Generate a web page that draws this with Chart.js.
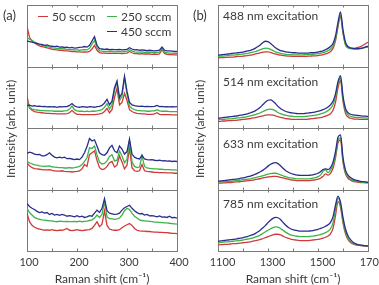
<!DOCTYPE html>
<html>
<head>
<meta charset="utf-8">
<script src="https://cdn.jsdelivr.net/npm/chart.js@4.4.1/dist/chart.umd.min.js"></script>
<style>
  body { margin: 0; width: 379px; height: 285px; overflow: hidden; background: #fff; position: relative;
         font-family: Lato, "Open Sans", sans-serif; color: #3a3a3a; }
  canvas { position: absolute; }
  .txt { position: absolute; white-space: nowrap; line-height: 14px; transform: translateY(-50%); font-size: 12px; }
  .key { position: absolute; width: 10px; height: 0; border-top: 1.5px solid; }
  .ytitle { position: absolute; width: 140px; text-align: center; font-size: 12px; line-height: 14px;
            transform: rotate(-90deg); white-space: nowrap; }
</style>
</head>
<body>
<script>
// x values (Raman shift, cm-1)
const shiftA = [100,105,110,115,120,125,130,135,140,145,150,155,160,165,170,175,180,185,190,195,
  200,205,210,215,220,225,230,235,240,245,250,255,260,265,270,275,280,285,290,295,
  300,305,310,315,320,325,330,335,340,345,350,355,360,365,370,375,380,385,390,395,400];
const shiftB = [1100,1110,1120,1130,1140,1150,1160,1170,1180,1190,1200,1210,1220,1230,1240,1250,1260,1270,1280,1290,
  1300,1310,1320,1330,1340,1350,1360,1370,1380,1390,1400,1410,1420,1430,1440,1450,1460,1470,1480,1490,
  1500,1510,1520,1530,1540,1550,1560,1570,1580,1590,1600,1610,1620,1630,1640,1650,1660,1670,1680,1690,1700];

const ticksA = [100, 200, 300, 400];
const ticksB = [1100, 1300, 1500, 1700];
const flows = ['50 sccm', '250 sccm', '450 sccm'];
const excitations = ['488 nm excitation', '514 nm excitation', '633 nm excitation', '785 nm excitation'];

// panel (a): intensity, % of each sub-panel height
const a1Red = [65,48,42,39,36,34,33,32,31,30,28.5,28,27.5,27,27,26,26,25.5,25,25,
  24.5,24.5,24,24.5,24,25,29,35,27,23,22.5,22.5,22,22.5,22,22,22,22,21.5,22,
  22.5,25,23,21.5,21.5,21,21.5,21,21,21,20.5,21,20.5,21,28,22,20.5,20,20,19.5,19.5];
const a1Green = [47,45,43,40,38,36,35,34,33,32.5,31,30.5,30,29.5,29.5,29,28.5,28,28,27.5,
  27.5,27,27.5,28,27.5,30,37,43,31,26,25.5,25,25,25.5,25,24.5,25,25,24.5,25,
  25.5,28,26,24.5,24,24,24.5,23.5,24,23.5,23.5,23,23.5,24,30,24,23,22.5,22.5,22,22];
const a1Blue = [42,41,40,39,38,37,36.5,35,35.5,34,33.5,33,33.5,32,32.5,31.5,32,31,31.5,30.5,
  31,31.5,32,33,32,35,42,49,35,29.5,29,28.5,29,28,28.5,28,28,28.5,27.5,28,
  28.5,31,29,27.5,28,27,27.5,27,26.5,27,26.5,26,26.5,27,32,27,26,26,25.5,25,25];

const a2Red = [52,33,29,27,26,25.5,25,24.5,24,24,23.5,23.5,23,23,23,23,23.5,25,29,25,
  22.5,22.5,22,22,22,22,22,22,22.5,23,24,27,32,25,30,50,65,38,42,57,
  45,30,27,25,24,23.5,23,23,22.5,22.5,22.5,23,25,22.5,22,22,22,22,21.5,21.5,21.5];
const a2Green = [44,34,31,30,29.5,29,28.5,28.5,28,28,28,27.5,27.5,27.5,27.5,28,28.5,31,36,30,
  28,27.5,27.5,27,27.5,27,27.5,27.5,28,29,30,34,40,31,38,62,75,45,52,82,
  55,36,32,30,29,28.5,28,28,27.5,27.5,28,28,30,28,27.5,27.5,27.5,27,27,27,27];
const a2Blue = [37,37.5,36,36.5,35.5,36,35,35.5,34.5,35,34.5,35,34,35,34.5,35,35,37,40,36,
  34.5,34,35,34.5,34,35,34.5,34,35,35.5,37,41,47,38,44,66,77,50,57,85,
  60,42,38,36.5,36,35.5,36,35,35.5,35,35,35.5,37,35,35.5,34.5,35,34.5,35,34.5,35];

const a3Red = [44,39,36,34.5,34,33.5,33,32.5,32.5,33,31.5,31,30.5,30.5,31,30,29.5,29.5,29,29.5,
  30,31,34,41,38,57,60,63,48,36,33,34,38,44,46,37,40,55,45,34,
  40,68,36,31,30,31,41,31,30,29.5,29,28.5,28.5,28,28,28,27.5,27.5,27.5,27,27];
const a3Green = [46,44,42,40.5,40,39,38.5,38,38.5,39,37.5,37,36.5,36,36,35.5,35.5,36,35.5,36,
  37,38,41,46,52,68,67,71,57,45,42,43,47,54,57,47,48,63,55,44,
  50,79,45,38,36,37,55,38,35.5,35,34.5,34,34,33.5,33.5,33,33,33,32.5,32.5,32];
const a3Blue = [59,61,60,58,57,57.5,55,55,57,60,56,53,52,53,52,53,50.5,51,50,49,
  50,49,53,60,70,83,79,81,71,60,57,56,60,68,72,63,60,71,66,58,
  62,82,58,53,51,50,56,50,49,48.5,49,48,47.5,48,47,47.5,46.5,47,46,46.5,46];

const a4Red = [62,48,42,39,37,36,35,34,34.5,34,35,34,33.5,34,34,35,37,34,33.5,34,
  35,34,33.5,34,34.5,35,37,42,48,40,44,66,42,36,34.5,34,34,35,38,41,
  43,45,42,37,34,33,32.5,32.5,32,32,31.5,31,31,30.5,30.5,30,30,29.5,29,29,28.5];
const a4Green = [70,63,59,55,53,52,51,50.5,50,49.5,49.5,48.5,48,49,48.5,48,48.5,48,48,48.5,
  48,49,48,48.5,49,50,51,54,59,55,60,81,56,53,52.5,52,52.5,54,59,66,
  70,68,62,57,54,51,50,49.5,49,48.5,48,47.5,47.5,47,46.5,46,46,45.5,45,44.5,44];
const a4Blue = [78,73,70,68,65,63,64,62,63,60,61.5,59,60,58.5,60,59,57,58,57,56,
  58,56,57,55,56,58,57,62,67,63,70,86,66,62,61,60,60.5,62,67,71,
  73,75,70,66,63,61,61.5,59,60,57.5,58,57,56,57.5,55.5,56,55,57,54.5,55,54];

// panel (b)
const b1Red = [14.5,15,15,15.5,15.5,16,16,16.5,17,17,17.5,18,18.5,19,20,21,22,23,24,24.5,
  24.5,23.5,22,21,20,19,18.5,18,17.5,17.5,17,17,17,17,17,17,17.5,17.5,18,18,
  18.5,19,20,21,22.5,25,30,42,65,82,55,36,31,30,30,30.5,31.5,33,35,37.5,40];
const b1Green = [17,17.5,17.5,18,18.5,19,19,19.5,20,20.5,21,21.5,22,23,24,25,26.5,28,29.5,30.5,
  30,28.5,26.5,24.5,23,22,21,20.5,20,20,19.5,19.5,19.5,19.5,19.5,20,20,20,20.5,21,
  21.5,22,23,24.5,26.5,29,34,45,68,84,55,36,31,29.5,29,29,29,29.5,30.5,31.5,32];
const b1Blue = [19,19.5,20,20.5,21,21.5,22,22.5,23,23.5,24,25,26,27,28.5,30.5,33,36,39.5,41.5,
  41,38,34.5,31,28.5,26.5,25.5,24.5,24,23.5,23,23,22.5,22.5,22.5,22.5,22.5,23,23,23.5,
  24,25,26,28,30,33,38,50,72,89,60,40,33,31,30,29.5,29.5,30,31,32.5,33.5];

const b2Red = [11,11,11.5,11.5,12,12,12.5,12.5,13,13.5,14,14.5,15,15.5,16.5,17,18,19,20,21,
  21.5,21.5,21,20,18.5,17.5,16.5,15.5,15,14.5,14,14,14,14,14,14,14.5,15,15.5,16,
  16.5,17,18,19.5,21,23.5,29,42,66,78,44,24,18,16,15,14.5,14.5,14,14,14,14];
const b2Green = [13.5,14,14,14.5,15,15,15.5,16,16.5,17,17.5,18,19,20,21,22,23.5,25,27,29,
  30.5,31,30,28,25.5,23.5,22,21,20,19.5,19,18.5,18.5,18.5,18.5,19,19.5,20,20.5,21,
  22,23,24.5,26,28.5,32,38,51,72,82,48,28,21.5,19,18,17.5,17,17,16.5,16.5,16];
const b2Blue = [16,16.5,17,17.5,18,18.5,19,19.5,20,21,21.5,22.5,23.5,25,26.5,28.5,31,34.5,38.5,42.5,
  45.5,46,44,40,35.5,32,29.5,27.5,26,25,24.5,24,23.5,23.5,23.5,24,24.5,25,25.5,26.5,
  27.5,28.5,30,32,34.5,38,44,56,76,86,52,32,25,22.5,21.5,21,20.5,20,19.5,19.5,19];

const b3Red = [11,11,11.5,11.5,12,12,12.5,13,13,13.5,14,14.5,15,15.5,16,17,17.5,18.5,19.5,20.5,
  21,21.5,22,22,21.5,20.5,19.5,18.5,17.5,16.5,16,15.5,15,15,15,15,15,15.5,16,16.5,
  17.5,19,22,26,24,27,35,52,76,81,45,26,19,16,14,13,12.5,12,12,11.5,11.5];
const b3Green = [13,13,13.5,13.5,14,14,14.5,15,15.5,16,16.5,17,17.5,18,19,20,21,22,23,24.5,
  25.5,26.5,27,27,26,24.5,23,21.5,20.5,19.5,19,18.5,18,18,18,18,18,18.5,19,20,
  21.5,24,30,33,28,32,40,56,80,84,48,28,21,17.5,15.5,14.5,13.5,13,12.5,12.5,12];
const b3Blue = [14,14.5,15,15.5,16,16.5,17,17.5,18,19,19.5,20.5,21.5,22.5,24,25.5,27.5,29.5,32,35,
  38.5,41.5,43.5,44,42.5,39,35,31.5,29,27,25.5,24.5,24,23.5,23.5,23.5,23.5,24,24.5,25.5,
  27,29.5,33,34,33,36,45,62,85,89,52,32,24,20,17.5,16,15,14,13.5,13,12.5];

const b4Red = [10,10.5,10.5,11,11,11.5,12,12,12.5,13,13.5,14,14.5,15,16,17,18,19,20.5,22,
  23.5,25,26.5,27.5,27.5,26.5,24.5,22.5,21,19.5,18.5,18,17.5,17,17,17,17,17.5,18,18.5,
  19,20,21,22.5,24.5,28,37,58,81,72,46,28,19,14,11.5,10,9.5,9,8.5,8.5,8];
const b4Green = [13.5,14,14.5,15,15,15.5,16,16.5,17,17.5,18,19,19.5,20.5,21.5,23,24.5,26.5,29,31.5,
  34,36.5,38.5,39.5,39,37,34,31,28.5,26.5,25.5,24.5,24,23.5,23.5,23.5,23.5,24,24.5,25,
  26,27,28.5,30,32.5,36.5,46,68,87,76,50,31,21,15.5,12.5,11,10,9.5,9,8.5,8];
const b4Blue = [16,16.5,17,17.5,18,18.5,19,19.5,20.5,21,22,23,24,25.5,27,29,31.5,34.5,38,42,
  46.5,50.5,53.5,55,54.5,51.5,47,42.5,39,36.5,35,34,33,32.5,32.5,32.5,32.5,33,33.5,34.5,
  35.5,37,38.5,40.5,43,47,56,75,90,80,55,36,25,18.5,14.5,12,10.5,9.5,9,8.5,8];

const RED = '#d03a3a', GREEN = '#3cb44a', BLUE = '#2a2d8c', FRAME = '#7a7a7a', INK = '#3a3a3a';
const FONT = 'Lato, "Open Sans", sans-serif';

// short inward tick marks on top and bottom edge of every sub-panel
const innerTicks = {
  id: 'innerTicks',
  afterDatasetsDraw(chart) {
    const { ctx, chartArea: a, scales: { x } } = chart;
    ctx.save();
    ctx.strokeStyle = FRAME;
    ctx.lineWidth = 1;
    ctx.beginPath();
    for (const t of x.ticks) {
      if (t.value <= x.min || t.value >= x.max) continue;
      const px = Math.round(x.getPixelForValue(t.value)) + 0.5;
      ctx.moveTo(px, a.top); ctx.lineTo(px, a.top + 2.5);
      ctx.moveTo(px, a.bottom); ctx.lineTo(px, a.bottom - 2.5);
    }
    ctx.stroke();
    ctx.restore();
  }
};

function subplot(box, xs, reds, greens, blues, ax, bottom) {
  const padX = 30, padT = 4, axisH = bottom ? 40 : 0, padB = bottom ? 0 : 4;
  const cv = document.createElement('canvas');
  cv.width = box.w + 2 * padX;
  cv.height = padT + box.h + axisH + padB;
  cv.style.left = (box.left - padX) + 'px';
  cv.style.top = (box.top - padT) + 'px';
  document.body.appendChild(cv);

  const pts = ys => xs.map((x, i) => ({ x, y: ys[i] }));
  const line = (label, ys, color, order) => ({
    label, data: pts(ys), borderColor: color, borderWidth: 1.3, pointRadius: 0, order,
    tension: ax.smooth ? 0.4 : 0, cubicInterpolationMode: ax.smooth ? 'monotone' : 'default'
  });
  const edge = pos => ({
    type: 'linear', position: pos, display: true,
    grid: { display: false, drawTicks: false }, ticks: { display: false },
    border: { color: FRAME, width: 1 }
  });

  new Chart(cv, {
    type: 'line',
    data: {
      datasets: [
        line(flows[0], reds, RED, 3),
        line(flows[1], greens, GREEN, 2),
        line(flows[2], blues, BLUE, 1)
      ]
    },
    options: {
      responsive: false,
      animation: false,
      events: [],
      layout: { padding: { left: padX, right: padX, top: padT, bottom: padB } },
      plugins: { legend: { display: false }, tooltip: { enabled: false } },
      scales: {
        x: {
          type: 'linear', position: 'bottom', min: ax.min, max: ax.max,
          grid: { display: false, drawTicks: false },
          border: { color: FRAME, width: 1 },
          afterFit: s => { if (bottom) s.height = axisH; },
          ticks: {
            display: bottom, stepSize: ax.step, autoSkip: false, maxRotation: 0,
            padding: 5, labelOffset: ax.labelOffset, color: INK,
            font: { family: FONT, size: 11 },
            callback: v => (ax.labels.includes(v) ? String(v) : '')
          },
          title: {
            display: bottom, text: 'Raman shift (cm⁻¹)', color: INK,
            font: { family: FONT, size: 12 }, padding: { top: 0, bottom: 5 }
          }
        },
        xTop: Object.assign(edge('top'), { min: ax.min, max: ax.max }),
        y: Object.assign(edge('left'), { min: 0, max: 100 }),
        yRight: Object.assign(edge('right'), { min: 0, max: 100 })
      }
    },
    plugins: [innerTicks]
  });
}

function text(str, left, top, size, cls) {
  const d = document.createElement('div');
  d.className = cls || 'txt';
  d.textContent = str;
  d.style.left = left + 'px';
  d.style.top = top + 'px';
  if (size) d.style.fontSize = size + 'px';
  document.body.appendChild(d);
  return d;
}

const rows = [{ top: 5, h: 62 }, { top: 67, h: 61 }, { top: 128, h: 62 }, { top: 190, h: 61 }];
const axA = { min: 100, max: 400, step: 50, labels: ticksA, labelOffset: 2, smooth: false };
const axB = { min: 1100, max: 1700, step: 100, labels: ticksB, labelOffset: 4.5, smooth: true };

const panelA = [[a1Red, a1Green, a1Blue], [a2Red, a2Green, a2Blue], [a3Red, a3Green, a3Blue], [a4Red, a4Green, a4Blue]];
const panelB = [[b1Red, b1Green, b1Blue], [b2Red, b2Green, b2Blue], [b3Red, b3Green, b3Blue], [b4Red, b4Green, b4Blue]];

rows.forEach((r, i) => {
  const last = i === rows.length - 1;
  subplot({ left: 27, top: r.top, w: 150, h: r.h }, shiftA, ...panelA[i], axA, last);
  subplot({ left: 218, top: r.top, w: 150, h: r.h }, shiftB, ...panelB[i], axB, last);
});

// panel letters
text('(a)', 3, 15, 13);
text('(b)', 193, 15, 13);

// legend in the first sub-panel of (a)
const keys = [{ x: 38, y: 16 }, { x: 107, y: 16 }, { x: 107, y: 31 }];
[RED, GREEN, BLUE].forEach((c, i) => {
  const k = document.createElement('div');
  k.className = 'key';
  k.style.left = keys[i].x + 'px';
  k.style.top = keys[i].y + 'px';
  k.style.borderColor = c;
  document.body.appendChild(k);
  text(flows[i], keys[i].x + 14, keys[i].y + 1, 12);
});

// excitation labels in panel (b)
const exY = [16, 81.5, 143.5, 204];
excitations.forEach((s, i) => text(s, 223, exY[i], 12));

// y titles
[11, 200].forEach(cx => {
  text('Intensity (arb. unit)', cx - 70, 121.5, 12, 'ytitle');
});
</script>
</body>
</html>
